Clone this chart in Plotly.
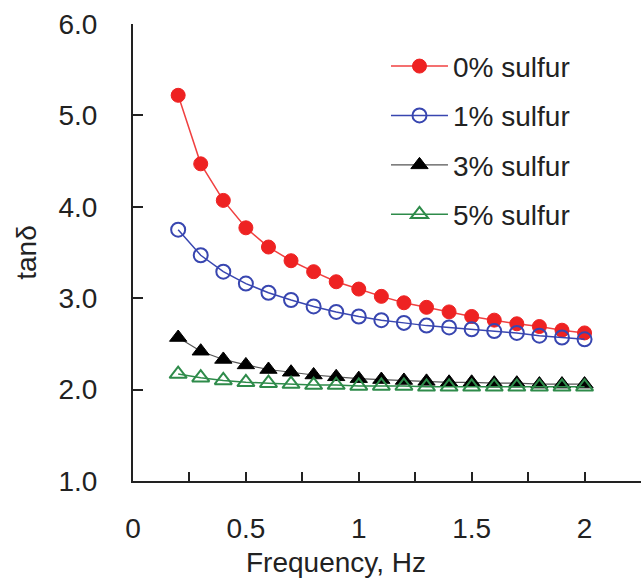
import plotly.graph_objects as go

freq = [0.2, 0.3, 0.4, 0.5, 0.6, 0.7, 0.8, 0.9, 1.0, 1.1, 1.2, 1.3, 1.4, 1.5, 1.6, 1.7, 1.8, 1.9, 2.0]
s0 = [5.22, 4.47, 4.07, 3.77, 3.56, 3.41, 3.29, 3.18, 3.10, 3.02, 2.95, 2.90, 2.85, 2.80, 2.76, 2.72, 2.69, 2.65, 2.62]
s1 = [3.75, 3.47, 3.29, 3.16, 3.06, 2.98, 2.91, 2.85, 2.80, 2.76, 2.73, 2.70, 2.68, 2.66, 2.64, 2.62, 2.59, 2.57, 2.55]
s3 = [2.57, 2.42, 2.33, 2.27, 2.22, 2.19, 2.16, 2.14, 2.12, 2.11, 2.10, 2.09, 2.08, 2.08, 2.07, 2.07, 2.06, 2.06, 2.06]
s5 = [2.17, 2.13, 2.10, 2.08, 2.07, 2.06, 2.05, 2.05, 2.04, 2.04, 2.04, 2.03, 2.03, 2.03, 2.03, 2.03, 2.03, 2.03, 2.03]
names = ["0% sulfur", "1% sulfur", "3% sulfur", "5% sulfur"]

x_tickvals = [0, 0.25, 0.5, 0.75, 1.0, 1.25, 1.5, 1.75, 2.0]
x_ticktext = ["0", "", "0.5", "", "1", "", "1.5", "", "2"]
y_tickvals = [1, 2, 3, 4, 5, 6]
y_ticktext = ["1.0", "2.0", "3.0", "4.0", "5.0", "6.0"]
x_title = "Frequency, Hz"
y_title = "tanδ"

FONT = "Arial, Liberation Sans, sans-serif"
TXT = "#222222"

styles = [
    dict(line=dict(color="#f04040", width=1.5),
         marker=dict(symbol="circle", size=14, color="#ee2222", line=dict(color="#ee2222", width=1))),
    dict(line=dict(color="#3846b0", width=1.5),
         marker=dict(symbol="circle-open", size=14, color="#3846b0", line=dict(color="#3846b0", width=2))),
    dict(line=dict(color="#555555", width=1.2),
         marker=dict(symbol="triangle-up", size=15, color="#000000", line=dict(color="#000000", width=1))),
    dict(line=dict(color="#2e8b4a", width=1.5),
         marker=dict(symbol="triangle-up-open", size=15, color="#2e8b4a", line=dict(color="#2e8b4a", width=2))),
]

fig = go.Figure()
for i, (ys, nm) in enumerate(zip([s0, s1, s3, s5], names)):
    fig.add_trace(go.Scatter(x=freq, y=ys, mode="lines+markers", name=nm,
                             legendgroup=nm, **styles[i]))

fig.update_layout(
    width=641, height=579,
    margin=dict(l=133, r=0, t=24, b=98),
    paper_bgcolor="white", plot_bgcolor="white",
    font=dict(family=FONT, size=28, color=TXT),
    showlegend=True,
    legend=dict(x=0.498, y=0.962, xanchor="left", yanchor="top",
                font=dict(family=FONT, size=28, color=TXT),
                bgcolor="rgba(0,0,0,0)", tracegroupgap=10,
                itemwidth=57),
    xaxis=dict(range=[0, 2.25], tickvals=x_tickvals, ticktext=x_ticktext,
               ticks="inside", ticklen=9, tickwidth=1.5, tickcolor=TXT,
               showline=True, linecolor=TXT, linewidth=2,
               showgrid=False, zeroline=False, ticklabelstandoff=21,
               tickfont=dict(size=28, color=TXT)),
    yaxis=dict(range=[1, 6], tickvals=y_tickvals, ticktext=y_ticktext,
               ticks="inside", ticklen=10, tickwidth=1.5, tickcolor=TXT,
               showline=True, linecolor=TXT, linewidth=2,
               showgrid=False, zeroline=False, ticklabelstandoff=28,
               tickfont=dict(size=28, color=TXT),
               title=dict(text=y_title, font=dict(size=28, color=TXT), standoff=14)),
    annotations=[dict(text=x_title, xref="paper", yref="paper", x=0.40, y=-0.179,
                      xanchor="center", yanchor="middle", showarrow=False,
                      font=dict(family=FONT, size=28, color=TXT))],
)

fig.write_html("out.html")
